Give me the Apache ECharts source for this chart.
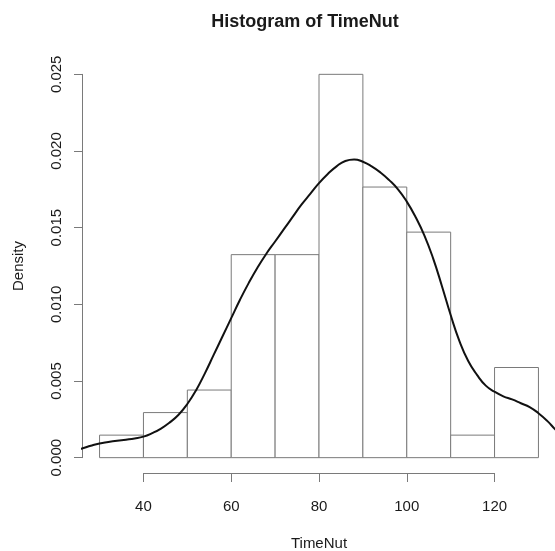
<!DOCTYPE html>
<html>
<head>
<meta charset="utf-8">
<style>
  html, body { margin: 0; padding: 0; background: #fff; }
  #chart { width: 555px; height: 551px; }
</style>
<script src="https://cdn.jsdelivr.net/npm/echarts@6/dist/echarts.min.js"></script>
</head>
<body>
<div id="chart"></div>
<script>
// Histogram bins (left/right edges) and their densities
const binLeft  = [30, 40, 50, 60, 70, 80, 90, 100, 110, 120];
const binRight = [40, 50, 60, 70, 80, 90, 100, 110, 120, 130];
const binDensity = [0.00147, 0.00294, 0.00441, 0.01324, 0.01324, 0.025, 0.01765, 0.01471, 0.00147, 0.00588];

// Kernel density estimate, sampled along TimeNut
const kdeX = [24, 26, 28, 30, 32, 34, 36, 38, 40, 42, 44, 46, 48, 50, 52, 54, 56, 58, 60, 62, 64, 66, 68, 70, 72, 74, 76, 78, 80, 82, 84, 86, 88, 90, 92, 94, 96, 98, 100, 102, 104, 106, 108, 110, 112, 114, 116, 118, 120, 122, 124, 126, 128, 130, 132, 134, 136];
const kdeY = [0.0005, 0.0006, 0.00078, 0.00093, 0.00102, 0.0011, 0.00117, 0.00125, 0.00137, 0.0016, 0.0019, 0.0023, 0.0028, 0.0035, 0.0044, 0.0055, 0.0067, 0.0079, 0.0091, 0.0103, 0.0114, 0.0124, 0.0133, 0.0141, 0.0149, 0.0157, 0.0165, 0.0172, 0.0179, 0.0185, 0.0190, 0.01935, 0.01945, 0.0193, 0.0190, 0.0186, 0.0181, 0.0175, 0.0167, 0.0157, 0.0145, 0.0130, 0.0112, 0.0093, 0.0076, 0.0063, 0.0054, 0.0047, 0.0043, 0.0040, 0.0038, 0.00355, 0.0033, 0.0029, 0.0024, 0.0018, 0.0013];

// Axis ranges and tick spacing
const xRange = [26, 134];
const yRange = [-0.001, 0.026];
const xTickRange = [40, 120];
const xTickStep = 20;
const yTickRange = [0, 0.025];
const yTickStep = 0.005;

const FONT = 'Liberation Sans, Arial, Helvetica, sans-serif';
const AXIS_GRAY = '#7a7a7a';
const TEXT = '#1a1a1a';

// Plot region in pixels
const plotLeft = 82, plotTop = 59, plotW = 474, plotH = 414;
const pxPerX = plotW / (xRange[1] - xRange[0]);
const pxPerY = plotH / (yRange[1] - yRange[0]);

const histData = binLeft.map((l, i) => [l, binRight[i], binDensity[i]]);
const kdeData = kdeX.map((x, i) => [x, kdeY[i]]);

const chart = echarts.init(document.getElementById('chart'), null, { renderer: 'canvas' });

chart.setOption({
  animation: false,
  backgroundColor: '#fff',
  textStyle: { fontFamily: FONT },
  title: {
    text: 'Histogram of TimeNut',
    left: 300,
    top: 8,
    textAlign: 'center',
    textStyle: { fontFamily: FONT, fontSize: 18, fontWeight: 'bold', color: TEXT }
  },
  grid: [
    // data region
    { left: plotLeft, top: plotTop, width: plotW, height: plotH, outerBoundsMode: 'none', containLabel: false },
    // x axis spanning the tick range only
    {
      left: plotLeft + (xTickRange[0] - xRange[0]) * pxPerX,
      width: (xTickRange[1] - xTickRange[0]) * pxPerX,
      top: plotTop, height: plotH,
      outerBoundsMode: 'none', containLabel: false
    },
    // y axis spanning the tick range only
    {
      left: plotLeft, width: plotW,
      top: plotTop + (yRange[1] - yTickRange[1]) * pxPerY,
      height: (yTickRange[1] - yTickRange[0]) * pxPerY,
      outerBoundsMode: 'none', containLabel: false
    }
  ],
  xAxis: [
    { gridIndex: 0, type: 'value', min: xRange[0], max: xRange[1], show: false },
    {
      gridIndex: 1, type: 'value', min: xTickRange[0], max: xTickRange[1], interval: xTickStep,
      position: 'bottom',
      axisLine: { show: true, lineStyle: { color: AXIS_GRAY, width: 1 } },
      axisTick: { show: true, length: 9, lineStyle: { color: AXIS_GRAY, width: 1 } },
      axisLabel: { margin: 26, fontSize: 15, color: TEXT, fontFamily: FONT },
      splitLine: { show: false },
      name: 'TimeNut', nameLocation: 'middle', nameGap: 63,
      nameTextStyle: { fontSize: 15, color: TEXT, fontFamily: FONT }
    },
    { gridIndex: 2, type: 'value', min: 0, max: 1, show: false }
  ],
  yAxis: [
    { gridIndex: 0, type: 'value', min: yRange[0], max: yRange[1], show: false },
    { gridIndex: 1, type: 'value', min: 0, max: 1, show: false },
    {
      gridIndex: 2, type: 'value', min: yTickRange[0], max: yTickRange[1], interval: yTickStep,
      position: 'left',
      axisLine: { show: true, lineStyle: { color: AXIS_GRAY, width: 1 } },
      axisTick: { show: true, length: 8, lineStyle: { color: AXIS_GRAY, width: 1 } },
      axisLabel: {
        margin: 18, fontSize: 15, color: TEXT, fontFamily: FONT,
        rotate: 90, align: 'center', verticalAlign: 'bottom',
        formatter: v => v.toFixed(3)
      },
      splitLine: { show: false },
      name: 'Density', nameLocation: 'middle', nameGap: 56,
      nameTextStyle: { fontSize: 15, color: TEXT, fontFamily: FONT }
    }
  ],
  series: [
    {
      type: 'custom',
      xAxisIndex: 0, yAxisIndex: 0,
      data: histData,
      clip: true,
      renderItem: function (params, api) {
        const p0 = api.coord([api.value(0), 0]);
        const p1 = api.coord([api.value(1), api.value(2)]);
        return {
          type: 'rect',
          shape: { x: p0[0], y: p1[1], width: p1[0] - p0[0], height: p0[1] - p1[1] },
          style: { fill: '#fff', stroke: AXIS_GRAY, lineWidth: 1 }
        };
      },
      z: 2
    },
    {
      type: 'line',
      xAxisIndex: 0, yAxisIndex: 0,
      data: kdeData,
      smooth: 0.5,
      showSymbol: false,
      clip: true,
      lineStyle: { color: '#111', width: 2 },
      z: 3
    }
  ]
});
</script>
</body>
</html>
